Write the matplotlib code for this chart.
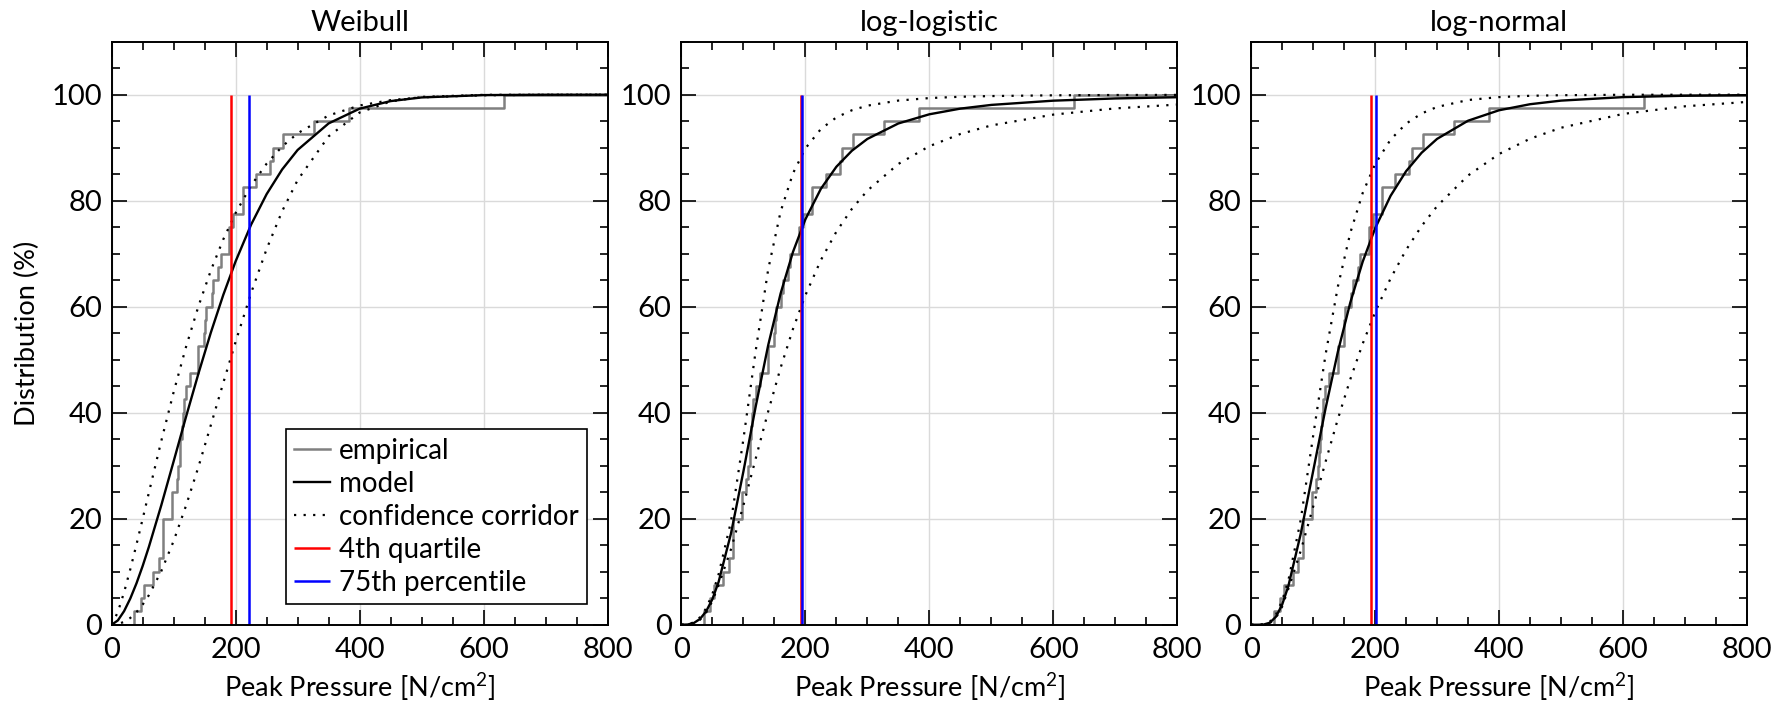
import numpy as np
import matplotlib.pyplot as plt
from matplotlib.ticker import MultipleLocator

plt.rcParams['font.family'] = ['Lato', 'DejaVu Sans']
plt.rcParams['mathtext.fontset'] = 'custom'
plt.rcParams['mathtext.rm'] = 'Lato'

# measured peak pressures (sorted), N/cm^2
peak_pressure = [36.5, 46.7, 52.6, 67.1, 76.3, 83.2, 83.2, 83.2, 97.7, 97.7,
                 104.8, 107.5, 110.0, 111.0, 113.0, 114.5, 116.0, 119.8, 126.3, 139.7,
                 139.7, 149.5, 150.5, 152.0, 161.3, 163.9, 172.0, 175.8, 189.7, 189.7,
                 196.2, 211.3, 211.3, 232.7, 255.3, 259.6, 276.8, 326.8, 383.3, 633.7]

curve_x = [0, 10, 20, 30, 40, 50, 60, 80, 100, 120, 140, 160, 180, 200, 225,
           250, 275, 300, 350, 400, 450, 500, 600, 700, 800]

weibull_model = [0, 0.82, 2.56, 4.94, 7.81, 11.09, 14.69, 22.53, 30.85, 39.25, 47.41,
                 55.13, 62.21, 68.58, 75.50, 81.24, 85.89, 89.57, 94.58, 97.36, 98.79,
                 99.48, 99.92, 99.99, 100.0]
weibull_upper = [0, 2.41, 6.13, 10.46, 15.14, 19.99, 24.92, 34.66, 43.92, 52.44, 60.10,
                 66.84, 72.69, 77.69, 82.87, 86.99, 90.22, 92.72, 96.08, 97.96, 98.97,
                 99.50, 99.89, 99.98, 100.0]
weibull_lower = [0, 0.12, 0.54, 1.28, 2.37, 3.80, 5.57, 10.10, 15.81, 22.49, 29.79,
                 37.67, 45.61, 53.40, 62.61, 70.89, 78.01, 83.89, 92.14, 96.63, 98.73,
                 99.58, 99.97, 100.0, 100.0]

loglogistic_model = [0, 0.04, 0.32, 1.09, 2.54, 4.83, 8.07, 17.22, 28.90, 41.26, 52.72,
                     62.47, 70.33, 76.48, 82.24, 86.40, 89.42, 91.65, 94.57, 96.30, 97.37,
                     98.07, 98.87, 99.29, 99.52]
loglogistic_upper = [0, 0.06, 0.45, 1.4, 3.1, 5.8, 9.5, 19.5, 35.0, 51.8, 67.02,
                     77.92, 85.16, 89.86, 93.52, 95.71, 97.06, 97.93, 98.89, 99.36, 99.61,
                     99.74, 99.88, 99.94, 99.96]
loglogistic_lower = [0, 0.03, 0.28, 0.95, 2.3, 4.5, 7.49, 14.25, 22.50, 31.41, 40.23,
                     48.46, 55.79, 62.15, 68.79, 74.15, 78.45, 81.90, 86.93, 90.28, 92.58,
                     94.20, 96.24, 97.41, 98.13]

lognormal_model = [0, 0.0, 0.03, 0.37, 1.50, 3.77, 7.27, 17.13, 28.94, 40.76, 51.52,
                   60.78, 68.49, 74.77, 80.92, 85.56, 89.04, 91.66, 95.09, 97.06, 98.20,
                   98.88, 99.54, 99.80, 99.91]
lognormal_upper = [0, 0.0, 0.06, 0.55, 1.9, 4.5, 8.3, 19.78, 35.59, 50.90, 63.83,
                   73.93, 81.45, 86.89, 91.53, 94.53, 96.45, 97.69, 98.99, 99.55, 99.79,
                   99.90, 99.98, 99.99, 100.0]
lognormal_lower = [0, 0.0, 0.02, 0.3, 1.3, 3.4, 6.76, 13.94, 22.24, 30.71, 38.84,
                   46.31, 53.02, 58.94, 65.34, 70.71, 75.21, 78.97, 84.75, 88.81, 91.69,
                   93.76, 96.37, 97.81, 98.63]

titles = ['Weibull', 'log-logistic', 'log-normal']
quartile_4th = 192.9                        # empirical
percentile_75 = [222.0, 194.8, 201.8]        # from each model

models = [weibull_model, loglogistic_model, lognormal_model]
uppers = [weibull_upper, loglogistic_upper, lognormal_upper]
lowers = [weibull_lower, loglogistic_lower, lognormal_lower]

# empirical distribution as a step curve
n = len(peak_pressure)
emp_x = [0] + peak_pressure + [800]
emp_y = [0] + list(100 * np.arange(1, n + 1) / n) + [100]

fs = 21        # tick labels / titles
fs_lab = 19.5  # axis labels
fs_leg = 20
dotted = (0, (1, 3.3))
fig = plt.figure(figsize=(17.87, 7.10), dpi=100)
axes = fig.subplots(1, 3)
fig.subplots_adjust(left=0.0625, right=0.9776, bottom=0.1201, top=0.9413, wspace=0.149)

for i, ax in enumerate(axes):
    ax.set_axisbelow(True)
    ax.grid(True, color='#dadada', lw=1.0)
    ax.step(emp_x, emp_y, where='post', color='#808080', lw=1.8, label='empirical')
    ax.plot(curve_x, models[i], color='black', lw=1.7, label='model')
    ax.plot(curve_x, uppers[i], color='black', ls=dotted, lw=1.6, label='confidence corridor')
    ax.plot(curve_x, lowers[i], color='black', ls=dotted, lw=1.6)
    ax.vlines(quartile_4th, 0, 100, color='red', lw=1.8, label='4th quartile')
    ax.vlines(percentile_75[i], 0, 100, color='blue', lw=1.8, label='75th percentile')

    ax.set_xlim(0, 800)
    ax.set_ylim(0, 110)
    ax.xaxis.set_major_locator(MultipleLocator(200))
    ax.xaxis.set_minor_locator(MultipleLocator(50))
    ax.yaxis.set_major_locator(MultipleLocator(20))
    ax.yaxis.set_minor_locator(MultipleLocator(5))
    ax.tick_params(which='both', direction='in', top=True, right=True, width=1.2,
                   labelsize=fs)
    ax.tick_params(which='major', length=11)
    ax.tick_params(which='minor', length=6)
    ax.tick_params(axis='x', which='major', pad=9)
    ax.tick_params(axis='y', which='major', pad=7)
    for sp in ax.spines.values():
        sp.set_linewidth(1.4)

    ax.set_title(titles[i], fontsize=fs, pad=8)
    ax.set_xlabel('Peak Pressure [N/cm$^2$]', fontsize=fs_lab, labelpad=5)

axes[0].set_ylabel('Distribution (%)', fontsize=fs_lab, labelpad=8)
leg = axes[0].legend(loc='lower right', fontsize=fs_leg, fancybox=False, edgecolor='black',
                     framealpha=1, borderaxespad=0.75, handlelength=1.3,
                     labelspacing=0.25, borderpad=0.3, handletextpad=0.3)
leg.get_frame().set_linewidth(1.2)

fig.savefig('out.png', dpi=100)
